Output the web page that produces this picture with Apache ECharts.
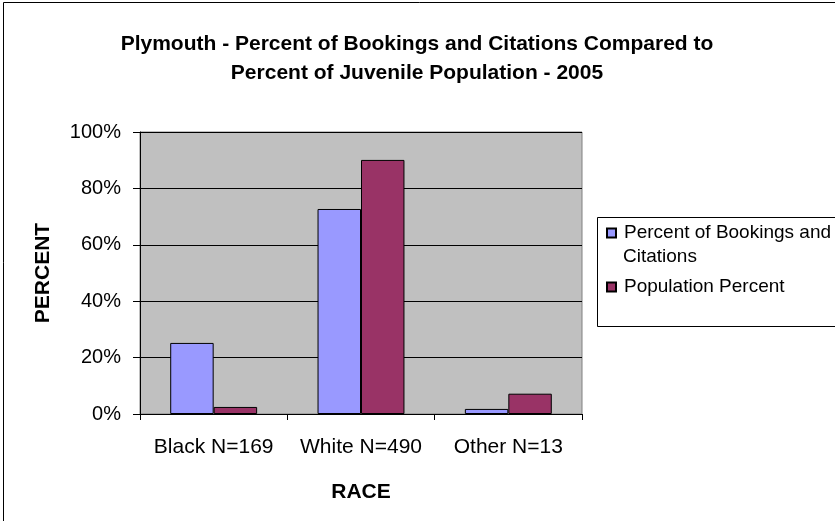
<!DOCTYPE html>
<html>
<head>
<meta charset="utf-8">
<script src="https://cdn.jsdelivr.net/npm/echarts@6/dist/echarts.min.js"></script>
<style>
  html, body { margin: 0; padding: 0; background: #fff; }
  #chart { width: 835px; height: 521px; }
</style>
</head>
<body>
<div id="chart"></div>
<script>
const categories = ["Black N=169", "White N=490", "Other N=13"];
const bookingsPct = [25.2, 72.7, 1.8];
const populationPct = [2.5, 90.1, 7.2];
const seriesNames = ["Percent of Bookings and Citations", "Population Percent"];

const font = "Liberation Sans, Arial, sans-serif";

const chart = echarts.init(document.getElementById("chart"));

const option = {
  backgroundColor: "#fff",
  animation: false,
  title: {
    text: "Plymouth - Percent of Bookings and Citations Compared to\nPercent of Juvenile Population - 2005",
    left: 412,
    textAlign: "center",
    top: 25,
    textStyle: {
      fontFamily: font,
      fontSize: 21,
      fontWeight: "bold",
      color: "#000",
      lineHeight: 29
    }
  },
  legend: {
    orient: "vertical",
    left: 606,
    top: 222,
    padding: 0,
    itemWidth: 9,
    itemHeight: 9,
    itemGap: 32,
    icon: "rect",
    data: seriesNames,
    // first entry wraps; its second line is drawn as a graphic text below
    formatter: (name) => name === seriesNames[0] ? "Percent of Bookings and" : name,
    textStyle: {
      fontFamily: font,
      fontSize: 19,
      color: "#000",
      lineHeight: 22,
      padding: [0, 0, 0, 3]
    }
  },
  grid: {
    left: 140,
    top: 132,
    width: 442,
    height: 282,
    show: true,
    backgroundColor: "#C0C0C0",
    borderColor: "#808080",
    borderWidth: 1
  },
  xAxis: {
    type: "category",
    data: categories,
    name: "RACE",
    nameLocation: "middle",
    nameGap: 68,
    nameTextStyle: { fontFamily: font, fontSize: 21, fontWeight: "bold", color: "#000" },
    axisLine: { lineStyle: { color: "#000", width: 1 } },
    axisTick: { show: true, length: 6, lineStyle: { color: "#000" } },
    axisLabel: { fontFamily: font, fontSize: 21, color: "#000", margin: 23, interval: 0 }
  },
  yAxis: {
    type: "value",
    min: 0,
    max: 100,
    interval: 20,
    name: "PERCENT",
    nameLocation: "middle",
    nameGap: 86,
    nameTextStyle: { fontFamily: font, fontSize: 21, fontWeight: "bold", color: "#000" },
    axisLine: { show: true, lineStyle: { color: "#000", width: 1 } },
    axisTick: { show: true, length: 7, lineStyle: { color: "#000" } },
    axisLabel: { fontFamily: font, fontSize: 20, color: "#000", margin: 19, formatter: "{value}%" },
    splitLine: { show: true, lineStyle: { color: "#000", width: 1 } }
  },
  series: [
    {
      name: seriesNames[0],
      type: "bar",
      data: bookingsPct,
      barGap: "0%",
      barCategoryGap: "41%",
      itemStyle: { color: "#9999FF", borderColor: "#000", borderWidth: 1 }
    },
    {
      name: seriesNames[1],
      type: "bar",
      data: populationPct,
      itemStyle: { color: "#993366", borderColor: "#000", borderWidth: 1 }
    }
  ],
  graphic: [
    {
      type: "rect",
      shape: { x: 3.5, y: 2.5, width: 900, height: 600 },
      style: { fill: "none", stroke: "#000", lineWidth: 1 },
      silent: true
    },
    {
      type: "rect",
      shape: { x: 597.5, y: 217.5, width: 300, height: 109 },
      style: { fill: "none", stroke: "#000", lineWidth: 1 },
      silent: true
    },
    {
      type: "text",
      left: 623,
      top: 247,
      style: { text: "Citations", font: "19px " + font, fill: "#000" },
      silent: true
    }
  ]
};

chart.setOption(option);
</script>
</body>
</html>
